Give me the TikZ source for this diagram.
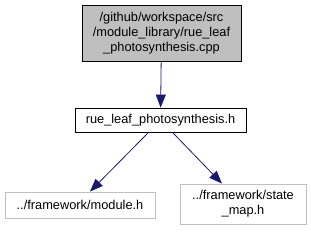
\documentclass[tikz,border=0pt]{standalone}
\usepackage{fontspec}
\setmainfont{Liberation Sans}
\usetikzlibrary{arrows.meta}

\definecolor{dep}{RGB}{25,25,112}

\begin{document}
\begin{tikzpicture}[
  x=1pt, y=-1pt,
  font=\fontsize{12.8}{15}\selectfont,
  file/.style={draw, inner sep=0pt, align=center, line width=0.8pt},
  cur/.style={file, fill=black!25},
  ext/.style={file, draw=black!25},
  dep/.style={draw=dep, line width=0.8pt, -{Triangle[length=13pt,width=10pt]}}
]
  \useasboundingbox (0,0) rectangle (311,231);

  % files
  \node[cur, minimum width=159pt, minimum height=56pt] (cpp) at (161.5,33)
    {/github/workspace/src\\/module\_library/rue\_leaf\\\_photosynthesis.cpp};
  \node[file, minimum width=171pt, minimum height=24pt] (hdr) at (160.5,120)
    {rue\_leaf\_photosynthesis.h};
  \node[ext, minimum width=150pt, minimum height=26pt] (mod) at (80,205)
    {../framework/module.h};
  \node[ext, minimum width=126pt, minimum height=40pt] (smap) at (243,204)
    {../framework/state\\\_map.h};

  % includes
  \draw[dep] (cpp) -- (hdr);
  \draw[dep] ([xshift=-12pt]hdr.south) -- ([xshift=10pt]mod.north);
  \draw[dep] ([xshift=12pt]hdr.south) -- ([xshift=-21pt]smap.north);
\end{tikzpicture}
\end{document}
